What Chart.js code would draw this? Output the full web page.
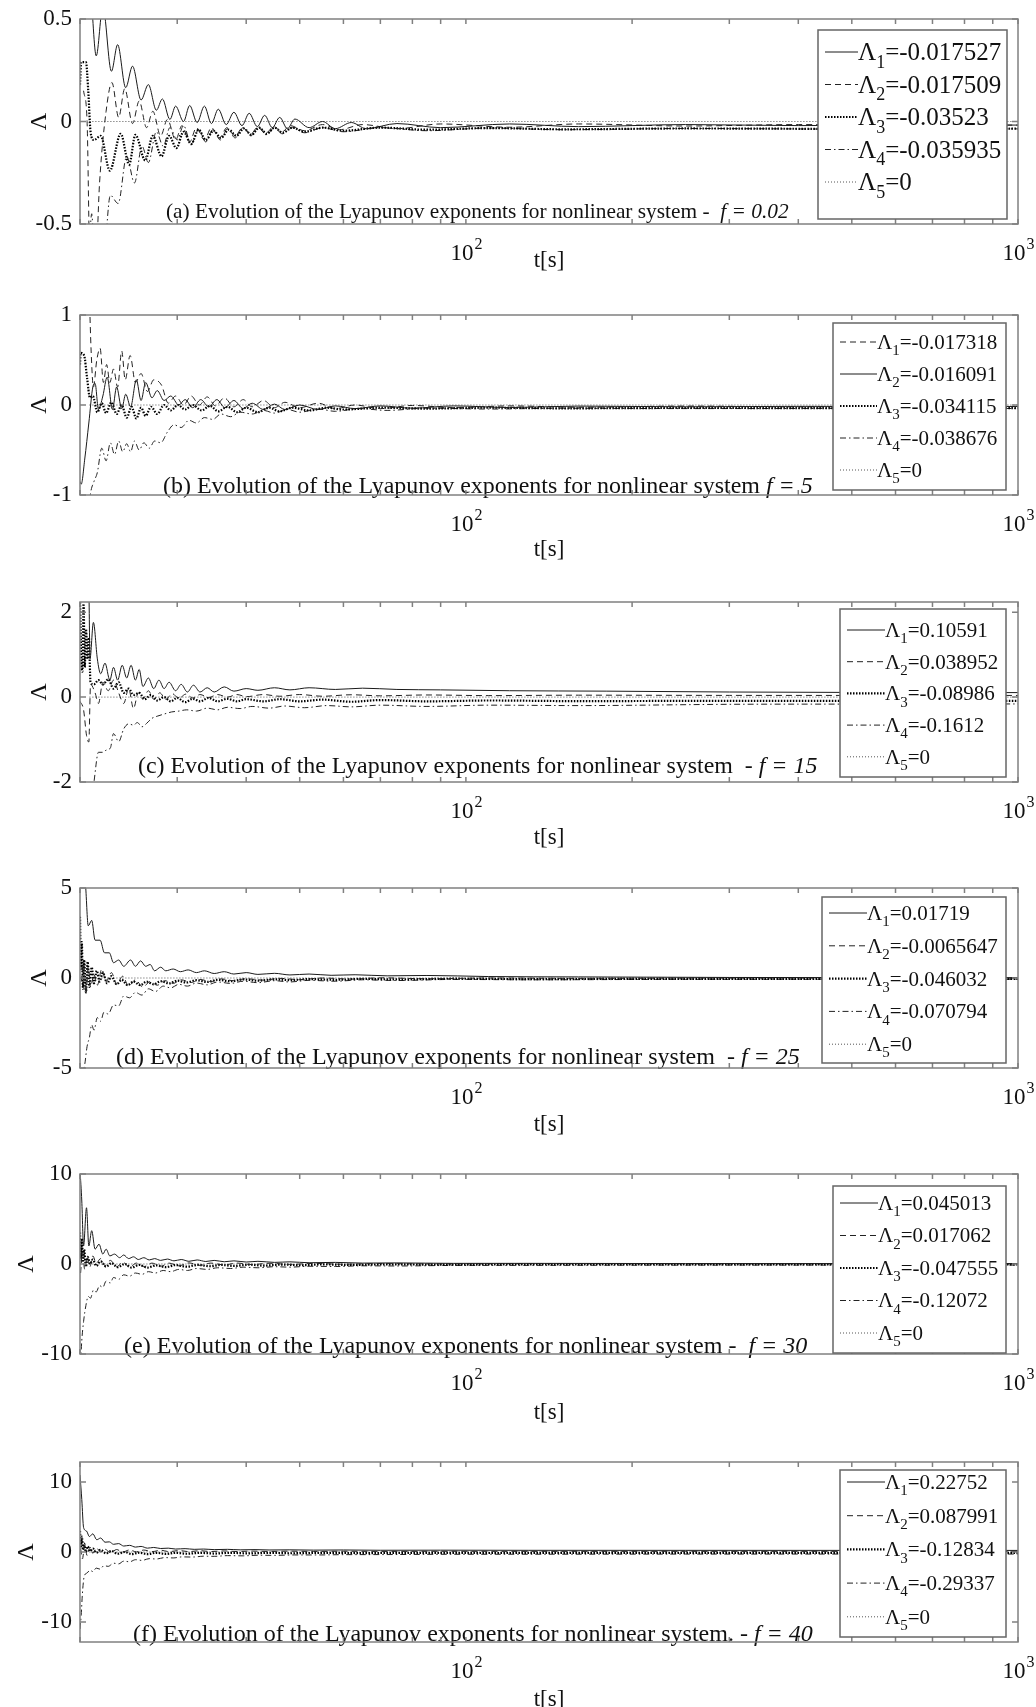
<!DOCTYPE html>
<html>
<head>
<meta charset="utf-8">
<script src="https://cdn.jsdelivr.net/npm/chart.js@4.4.1/dist/chart.umd.min.js"></script>
<style>
  html, body { margin: 0; padding: 0; background: #fff; }
  #wrap { position: relative; width: 1036px; height: 1707px; }
  canvas { position: absolute; left: 0; }
</style>
</head>
<body>
<div id="wrap"></div>
<script>
// time axis (log) shared by all panels
var xMin = 20, xMax = 1000;
var xTicks = [20, 30, 40, 50, 60, 70, 80, 90, 100, 200, 300, 400, 500, 600, 700, 800, 900, 1000];
var xLabelTicks = [100, 1000];
var xLabelExps = ['2', '3'];

// lambda5 is zero in every panel
var lambda5 = [[20.8, 0], [1000, 0]];

// (a) f = 0.02
var yRangeA = [-0.5, 0.5];
var yTicksA = [-0.5, 0, 0.5];
var valsA = ['-0.017527', '-0.017509', '-0.03523', '-0.035935', '0'];
var aL1 = [[20.3,0.9],[20.9,0.65],[21.4,0.32],[22.0,0.56],[22.8,0.245],[23.4,0.375],[24.2,0.165],[24.9,0.27],[25.8,0.105],[26.6,0.18],[27.5,0.055],[28.2,0.11],[29.1,0.01],[29.8,0.075],[30.8,0.0],[31.6,0.078],[32.6,-0.005],[33.6,0.075],[34.6,-0.01],[35.6,0.06],[36.8,-0.015],[38.0,0.045],[39.3,-0.02],[40.5,0.04],[41.9,-0.025],[43.2,0.03],[44.6,-0.03],[46.0,0.02],[47.5,-0.035],[49.0,0.012],[52,-0.03],[55,0.0],[58,-0.035],[62,-0.005],[66,-0.035],[75,-0.01],[90,-0.03],[120,-0.012],[160,-0.025],[250,-0.015],[400,-0.02],[700,-0.017],[1000,-0.0175]];
var aL2 = [[20.3,0.15],[20.6,0.0],[20.85,-0.7],[21.3,-0.75],[21.7,-0.3],[22.3,0.05],[22.85,0.19],[23.5,0.02],[24.1,0.16],[24.9,-0.01],[25.6,0.1],[26.4,-0.03],[27.1,0.05],[28.0,-0.07],[28.8,0.01],[29.8,-0.09],[30.6,-0.02],[31.6,-0.1],[32.5,-0.03],[33.6,-0.09],[34.6,-0.03],[35.8,-0.08],[36.9,-0.03],[38.2,-0.07],[39.4,-0.03],[40.8,-0.06],[42.0,-0.025],[43.5,-0.055],[44.8,-0.025],[46.5,-0.05],[48,-0.02],[51,-0.045],[55,-0.015],[59,-0.04],[65,-0.015],[75,-0.035],[90,-0.012],[120,-0.028],[160,-0.012],[250,-0.022],[400,-0.015],[700,-0.018],[1000,-0.0175]];
var aL3 = [[20.0,0.18],[20.1,0.29],[20.5,0.29],[20.7,0.15],[20.9,-0.05],[21.2,-0.09],[21.8,-0.07],[22.65,-0.24],[23.7,-0.06],[24.55,-0.21],[25.2,-0.065],[26.25,-0.19],[27.1,-0.07],[28.1,-0.17],[29.0,-0.07],[29.9,-0.13],[30.8,-0.05],[31.8,-0.11],[32.8,-0.04],[33.8,-0.09],[34.9,-0.045],[36.0,-0.08],[37.2,-0.04],[38.4,-0.07],[39.6,-0.035],[40.9,-0.065],[42.2,-0.03],[43.6,-0.06],[45,-0.03],[46.6,-0.055],[48.5,-0.03],[51,-0.05],[55,-0.03],[60,-0.045],[70,-0.03],[85,-0.04],[110,-0.032],[150,-0.038],[250,-0.034],[500,-0.036],[1000,-0.0352]];
var aL4 = [[20.8,-0.6],[21.0,-0.45],[21.2,-0.6],[22.0,-0.7],[22.7,-0.36],[23.45,-0.4],[24.3,-0.17],[25.1,-0.3],[25.9,-0.12],[26.6,-0.2],[27.5,-0.05],[28.3,-0.12],[29.1,-0.03],[30.0,-0.09],[30.8,-0.02],[31.8,-0.11],[32.8,-0.04],[33.8,-0.1],[34.8,-0.04],[35.9,-0.09],[37,-0.035],[38.2,-0.08],[39.5,-0.03],[40.8,-0.07],[42.1,-0.03],[43.5,-0.065],[45,-0.03],[46.5,-0.06],[48.5,-0.03],[51,-0.055],[55,-0.03],[60,-0.05],[70,-0.03],[85,-0.045],[110,-0.032],[150,-0.04],[250,-0.034],[500,-0.037],[1000,-0.0359]];

// (b) f = 5
var yRangeB = [-1, 1];
var yTicksB = [-1, 0, 1];
var valsB = ['-0.017318', '-0.016091', '-0.034115', '-0.038676', '0'];
var bL1 = [[20.8,1.2],[20.95,0.6],[21.15,0.2],[21.45,0.5],[21.75,0.63],[22.05,0.25],[22.35,0.45],[22.65,0.25],[23.0,0.4],[23.4,0.2],[23.8,0.6],[24.15,0.28],[24.65,0.55],[25.2,0.25],[25.8,0.35],[26.5,0.15],[27.2,0.28],[28.1,0.22],[28.9,0.02],[29.8,0.1],[30.8,0.0],[31.8,0.1],[32.9,0.0],[34,0.09],[35.2,-0.01],[36.5,0.08],[38,-0.02],[39.5,0.06],[41,-0.02],[43,0.05],[45,-0.03],[47,0.03],[50,-0.03],[54,0.02],[58,-0.04],[63,0.0],[70,-0.04],[80,-0.005],[95,-0.03],[120,-0.01],[160,-0.025],[250,-0.012],[400,-0.02],[700,-0.016],[1000,-0.0173]];
var bL2 = [[20.0,-0.85],[20.1,-0.88],[20.4,-0.6],[20.75,-0.2],[21.1,0.2],[21.3,0.24],[21.6,-0.05],[22.0,0.1],[22.4,0.31],[22.9,-0.05],[23.3,0.2],[23.8,-0.04],[24.2,0.12],[24.7,-0.02],[25.3,0.28],[25.8,0.05],[26.3,0.25],[27.0,0.08],[27.6,0.16],[28.4,0.05],[29.2,0.1],[30.2,0.0],[31.0,0.06],[32.0,-0.03],[33.1,0.06],[34.2,-0.02],[35.4,0.06],[36.6,-0.03],[38,0.05],[39.5,-0.04],[41,0.02],[43,-0.05],[45,0.01],[47,-0.05],[50,0.0],[54,-0.05],[58,-0.01],[63,-0.04],[70,-0.01],[80,-0.035],[95,-0.01],[120,-0.028],[160,-0.012],[250,-0.02],[400,-0.015],[700,-0.0165],[1000,-0.0161]];
var bL3 = [[20.0,0.45],[20.05,0.58],[20.35,0.55],[20.6,0.3],[20.85,0.08],[21.1,0.1],[21.5,-0.08],[21.9,0.02],[22.3,-0.09],[22.8,0.03],[23.3,-0.1],[23.8,0.0],[24.3,-0.14],[24.8,-0.02],[25.3,-0.15],[25.8,-0.03],[26.3,-0.12],[26.9,-0.02],[27.6,-0.1],[28.4,0.0],[29.2,-0.06],[30.1,0.0],[31,-0.05],[32,0.0],[33.2,-0.06],[34.4,-0.01],[35.6,-0.07],[37,-0.02],[38.5,-0.08],[40,-0.03],[42,-0.08],[44,-0.03],[46,-0.07],[48.5,-0.03],[52,-0.06],[56,-0.03],[60,-0.05],[70,-0.03],[85,-0.04],[110,-0.03],[150,-0.037],[250,-0.033],[500,-0.035],[1000,-0.0341]];
var bL4 = [[20.8,-1.1],[20.9,-0.98],[21.2,-0.85],[21.5,-0.75],[21.9,-0.48],[22.3,-0.62],[22.7,-0.42],[23.1,-0.55],[23.5,-0.4],[23.9,-0.52],[24.3,-0.43],[24.7,-0.52],[25.1,-0.4],[25.6,-0.5],[26.1,-0.42],[26.7,-0.48],[27.3,-0.4],[28.0,-0.42],[28.8,-0.3],[29.6,-0.22],[30.5,-0.25],[31.5,-0.17],[32.5,-0.2],[33.6,-0.14],[34.8,-0.16],[36,-0.1],[37.5,-0.13],[39,-0.08],[41,-0.1],[43,-0.06],[45,-0.09],[47.5,-0.05],[50,-0.08],[54,-0.045],[58,-0.07],[64,-0.04],[72,-0.06],[85,-0.035],[110,-0.045],[150,-0.036],[250,-0.04],[500,-0.038],[1000,-0.0387]];

// (c) f = 15
var yRangeC = [-2, 2.24];
var yTicksC = [-2, 0, 2];
var valsC = ['0.10591', '0.038952', '-0.08986', '-0.1612', '0'];
var cL1 = [[20.0,3.0],[20.75,2.5],[20.85,0.9],[21.15,1.76],[21.5,0.9],[21.8,0.55],[22.2,0.8],[22.65,0.4],[23.0,0.7],[23.4,0.4],[23.85,0.75],[24.3,0.45],[24.75,0.75],[25.2,0.4],[25.6,0.65],[26.0,0.25],[26.6,0.45],[27.2,0.2],[27.8,0.4],[28.4,0.2],[29.0,0.35],[29.8,0.15],[30.5,0.3],[31.3,0.12],[32.1,0.28],[33.0,0.12],[34,0.22],[35,0.12],[36.5,0.24],[38,0.14],[40,0.2],[42,0.16],[45,0.22],[48,0.17],[52,0.22],[58,0.18],[65,0.21],[75,0.18],[90,0.17],[120,0.15],[180,0.14],[300,0.12],[500,0.11],[1000,0.106]];
var cL2 = [[20.0,-0.1],[20.3,-0.3],[20.55,-0.9],[20.75,-1.06],[20.9,0.3],[21.3,0.1],[21.6,-0.15],[22.0,0.35],[22.5,0.15],[23.0,0.4],[23.5,0.1],[24.0,-0.15],[24.5,0.2],[25.0,-0.27],[25.5,0.1],[26.0,-0.05],[26.6,0.15],[27.2,-0.05],[27.9,0.1],[28.6,-0.05],[29.4,0.08],[30.2,-0.03],[31.1,0.07],[32,-0.02],[33,0.06],[34.2,-0.01],[35.5,0.06],[37,0.0],[38.5,0.06],[40,0.01],[43,0.06],[46,0.02],[50,0.06],[55,0.02],[62,0.055],[70,0.03],[85,0.05],[110,0.035],[160,0.045],[300,0.04],[1000,0.039]];
var cL3 = [[20.0,2.3],[20.1,1.0],[20.2,0.6],[20.3,2.2],[20.4,0.7],[20.5,1.6],[20.65,0.9],[20.75,1.4],[20.9,0.35],[21.2,0.3],[21.6,0.4],[22.0,0.3],[22.5,0.42],[23.0,0.2],[23.5,0.35],[24,0.1],[24.5,0.2],[25,0.05],[25.6,0.1],[26.2,-0.05],[26.9,0.05],[27.6,-0.08],[28.4,0.0],[29.2,-0.1],[30,-0.02],[31,-0.12],[32,-0.04],[33,-0.1],[34.2,-0.02],[35.5,-0.1],[37,-0.04],[38.5,-0.1],[40,-0.05],[43,-0.1],[46,-0.05],[50,-0.1],[55,-0.06],[62,-0.11],[70,-0.07],[85,-0.1],[110,-0.08],[160,-0.095],[300,-0.087],[1000,-0.0899]];
var cL4 = [[20.9,-2.6],[21.2,-2.0],[21.6,-1.3],[22.0,-1.3],[22.3,-1.25],[22.7,-1.2],[23.0,-0.86],[23.5,-1.05],[24.0,-0.75],[24.5,-0.63],[25.0,-0.66],[25.4,-0.6],[25.9,-0.7],[26.4,-0.62],[27.0,-0.5],[27.6,-0.45],[28.4,-0.4],[29.3,-0.35],[30.2,-0.33],[31.2,-0.3],[32.5,-0.33],[34,-0.26],[35.5,-0.3],[37,-0.24],[39,-0.27],[41,-0.22],[44,-0.26],[47,-0.21],[51,-0.25],[56,-0.2],[62,-0.23],[70,-0.19],[85,-0.22],[110,-0.19],[160,-0.2],[300,-0.17],[500,-0.165],[1000,-0.1612]];

// (d) f = 25
var yRangeD = [-5, 5];
var yTicksD = [-5, 0, 5];
var valsD = ['0.01719', '-0.0065647', '-0.046032', '-0.070794', '0'];
var dL1 = [[20.2,6],[20.45,5.3],[20.7,2.9],[21.0,3.2],[21.3,2.1],[21.75,2.1],[22.15,1.4],[22.6,1.4],[23.0,0.85],[23.5,1.0],[24.0,0.65],[24.7,1.0],[25.2,0.65],[25.75,0.95],[26.3,0.65],[26.8,0.75],[27.3,0.4],[28,0.6],[28.6,0.4],[29.5,0.5],[30.4,0.35],[31.4,0.45],[32.5,0.3],[33.6,0.4],[35,0.25],[36.5,0.35],[38,0.22],[40,0.3],[42,0.2],[45,0.26],[48,0.17],[52,0.22],[57,0.15],[63,0.18],[72,0.12],[85,0.14],[110,0.08],[160,0.06],[300,0.03],[1000,0.0172]];
var dL2 = [[20.1,-0.2],[20.3,0.8],[20.5,-0.9],[20.7,0.6],[20.9,-0.5],[21.2,0.2],[21.5,-0.4],[21.9,0.5],[22.3,-0.2],[22.8,0.3],[23.3,-0.35],[23.9,0.1],[24.5,-0.45],[25.2,-0.1],[26,-0.5],[26.8,-0.2],[27.6,-0.4],[28.5,-0.15],[29.5,-0.3],[30.5,-0.1],[31.8,-0.25],[33,-0.08],[34.5,-0.2],[36,-0.05],[38,-0.15],[40,-0.04],[43,-0.12],[46,-0.02],[50,-0.09],[55,0.0],[62,-0.06],[70,0.01],[85,-0.04],[110,0.0],[160,-0.02],[300,-0.005],[1000,-0.0066]];
var dL3 = [[20.0,3.4],[20.08,0.5],[20.15,2.0],[20.25,-0.6],[20.35,1.0],[20.5,-0.8],[20.65,0.9],[20.8,-0.5],[21.0,0.6],[21.2,-0.3],[21.45,0.4],[21.7,-0.2],[22.0,0.3],[22.4,-0.3],[22.8,0.1],[23.3,-0.35],[23.8,-0.1],[24.4,-0.4],[25,-0.2],[25.7,-0.4],[26.4,-0.2],[27.2,-0.35],[28,-0.18],[29,-0.3],[30,-0.15],[31.2,-0.25],[32.5,-0.12],[34,-0.22],[35.5,-0.1],[37.5,-0.18],[39.5,-0.08],[42,-0.15],[45,-0.07],[48,-0.12],[52,-0.06],[58,-0.1],[65,-0.05],[75,-0.08],[95,-0.04],[130,-0.06],[250,-0.045],[1000,-0.046]];
var dL4 = [[20.15,-5.5],[20.4,-4.8],[20.6,-3.8],[20.8,-3.3],[21.0,-2.6],[21.2,-2.9],[21.5,-2.2],[21.8,-2.4],[22.1,-1.9],[22.5,-2.0],[23.0,-1.5],[23.5,-1.55],[24.0,-1.0],[24.6,-1.1],[25.2,-0.8],[25.9,-0.95],[26.6,-0.6],[27.4,-0.75],[28.3,-0.45],[29.2,-0.55],[30.2,-0.35],[31.3,-0.45],[32.5,-0.28],[34,-0.38],[35.5,-0.22],[37.5,-0.3],[39.5,-0.18],[42,-0.26],[45,-0.15],[48,-0.22],[52,-0.13],[58,-0.18],[65,-0.1],[75,-0.14],[95,-0.08],[130,-0.1],[250,-0.075],[1000,-0.0708]];

// (e) f = 30
var yRangeE = [-10, 10];
var yTicksE = [-10, 0, 10];
var valsE = ['0.045013', '0.017062', '-0.047555', '-0.12072', '0'];
var eL1 = [[20.0,10.5],[20.15,7],[20.3,2.0],[20.55,6.25],[20.75,2.0],[21.0,3.7],[21.3,1.65],[21.65,2.2],[22.0,1.1],[22.3,1.65],[22.65,0.9],[23.1,1.1],[23.6,0.7],[24.0,1.0],[24.5,0.6],[25.0,0.8],[25.5,0.5],[26.1,0.7],[26.7,0.45],[27.3,0.6],[28,0.4],[28.8,0.55],[29.6,0.35],[30.5,0.5],[31.5,0.3],[32.6,0.45],[33.8,0.28],[35,0.4],[36.5,0.25],[38,0.35],[40,0.22],[42,0.3],[45,0.18],[48,0.24],[52,0.14],[58,0.18],[65,0.1],[75,0.12],[95,0.07],[130,0.07],[250,0.05],[1000,0.045]];
var eL2 = [[20.05,-1.0],[20.2,1.2],[20.4,-0.6],[20.6,0.8],[20.85,-0.3],[21.1,0.9],[21.4,0.1],[21.8,0.6],[22.2,-0.2],[22.7,0.4],[23.3,-0.3],[23.9,0.2],[24.6,-0.35],[25.3,0.1],[26.1,-0.3],[27,0.1],[28,-0.25],[29,0.1],[30.2,-0.2],[31.5,0.12],[33,-0.15],[34.5,0.1],[36.5,-0.1],[38.5,0.1],[41,-0.06],[44,0.08],[48,-0.04],[53,0.06],[60,-0.02],[70,0.04],[90,0.0],[130,0.03],[250,0.015],[1000,0.0171]];
var eL3 = [[20.0,3.5],[20.08,0.5],[20.16,2.8],[20.25,0.2],[20.35,1.6],[20.5,-0.3],[20.65,0.8],[20.85,0.0],[21.1,0.5],[21.4,-0.2],[21.8,0.3],[22.3,-0.3],[22.8,0.1],[23.4,-0.35],[24.1,0.0],[24.8,-0.4],[25.6,-0.1],[26.5,-0.4],[27.5,-0.15],[28.6,-0.35],[29.8,-0.12],[31.2,-0.3],[32.7,-0.1],[34.3,-0.25],[36,-0.1],[38,-0.22],[40.5,-0.08],[43,-0.18],[46.5,-0.06],[50,-0.14],[55,-0.05],[62,-0.1],[72,-0.04],[90,-0.07],[130,-0.045],[250,-0.05],[1000,-0.0476]];
var eL4 = [[20.05,-11],[20.15,-8.5],[20.3,-6.4],[20.5,-4.6],[20.7,-3.6],[20.9,-3.8],[21.15,-2.9],[21.4,-3.1],[21.7,-2.4],[22.0,-2.6],[22.3,-1.9],[22.7,-2.1],[23.0,-1.5],[23.5,-1.7],[24.0,-1.2],[24.6,-1.35],[25.2,-1.0],[25.9,-1.15],[26.6,-0.85],[27.4,-1.0],[28.3,-0.72],[29.2,-0.85],[30.2,-0.6],[31.3,-0.72],[32.5,-0.5],[34,-0.6],[35.5,-0.42],[37.5,-0.5],[39.5,-0.35],[42,-0.42],[45,-0.3],[48,-0.35],[52,-0.25],[58,-0.28],[65,-0.2],[75,-0.22],[95,-0.16],[130,-0.15],[250,-0.125],[1000,-0.1207]];

// (f) f = 40
var yRangeF = [-12.86, 12.86];
var yTicksF = [-10, 0, 10];
var valsF = ['0.22752', '0.087991', '-0.12834', '-0.29337', '0'];
var fL1 = [[20.0,11],[20.15,7.5],[20.3,3.5],[20.55,3.0],[20.8,2.2],[21.1,2.6],[21.45,1.75],[21.8,2.0],[22.2,1.4],[22.6,1.45],[23.0,1.1],[23.5,1.2],[24.0,0.85],[24.6,0.95],[25.2,0.7],[25.8,0.8],[26.5,0.55],[27.2,0.65],[28,0.5],[28.9,0.55],[29.8,0.42],[31,0.48],[32.2,0.38],[33.5,0.42],[35,0.34],[37,0.38],[39,0.31],[41.5,0.34],[44,0.29],[48,0.31],[53,0.27],[60,0.29],[70,0.25],[90,0.26],[130,0.24],[250,0.235],[1000,0.2275]];
var fL2 = [[20.05,0.5],[20.2,-1.0],[20.4,1.0],[20.6,-0.5],[20.85,0.7],[21.1,-0.2],[21.4,0.6],[21.8,0.0],[22.2,0.4],[22.7,-0.1],[23.3,0.35],[23.9,0.0],[24.6,0.3],[25.3,0.02],[26.1,0.28],[27,0.05],[28,0.25],[29,0.06],[30.2,0.2],[31.5,0.06],[33,0.18],[34.5,0.07],[36.5,0.15],[38.5,0.07],[41,0.13],[44,0.08],[48,0.12],[53,0.08],[60,0.11],[70,0.085],[90,0.1],[130,0.09],[250,0.09],[1000,0.088]];
var fL3 = [[20.0,3.0],[20.08,0.8],[20.16,2.2],[20.25,0.3],[20.35,1.2],[20.5,0.0],[20.65,0.8],[20.85,0.1],[21.1,0.5],[21.4,-0.1],[21.8,0.3],[22.3,-0.2],[22.8,0.15],[23.4,-0.25],[24.1,0.0],[24.8,-0.3],[25.6,-0.1],[26.5,-0.3],[27.5,-0.12],[28.6,-0.28],[29.8,-0.12],[31.2,-0.25],[33,-0.12],[35,-0.22],[37.5,-0.12],[40.5,-0.2],[44,-0.12],[48,-0.18],[55,-0.12],[65,-0.15],[80,-0.12],[110,-0.14],[250,-0.125],[1000,-0.1283]];
var fL4 = [[20.0,-11],[20.1,-9],[20.2,-6],[20.35,-3.5],[20.6,-3.0],[20.85,-2.6],[21.1,-2.8],[21.4,-2.3],[21.75,-2.45],[22.1,-1.95],[22.5,-2.05],[23.0,-1.6],[23.5,-1.7],[24.0,-1.3],[24.6,-1.4],[25.2,-1.1],[25.9,-1.2],[26.7,-0.95],[27.5,-1.0],[28.5,-0.8],[29.5,-0.85],[30.6,-0.7],[32,-0.72],[33.5,-0.6],[35,-0.62],[37,-0.52],[39.5,-0.55],[42,-0.46],[45,-0.48],[49,-0.42],[54,-0.42],[60,-0.38],[70,-0.37],[90,-0.33],[130,-0.32],[250,-0.3],[1000,-0.2934]];

var SERIF = "'Liberation Serif', 'Times New Roman', serif";
var TXT = '#111111';

var lineStyles = {
    solid:   { color: '#1a1a1a', width: 1,   dash: [] },
    dashed:  { color: '#222222', width: 1,   dash: [6, 4] },
    dotBold: { color: '#000000', width: 2.2, dash: [1.5, 1.5] },
    dashDot: { color: '#222222', width: 1,   dash: [6, 3, 1.5, 3] },
    dotThin: { color: '#555555', width: 1,   dash: [1, 2] }
};
var stylesStd = ['solid', 'dashed', 'dotBold', 'dashDot', 'dotThin'];

// page layout of the six axes (page pixels)
var panels = [
    { top: 0, h: 290, plotTop: 19, plotBottom: 224, yRange: yRangeA, yTicks: yTicksA,
      series: [aL1, aL2, aL3, aL4, lambda5], values: valsA, styles: stylesStd,
      note: ['(a) Evolution of the Lyapunov exponents for nonlinear system -  ', 'f = 0.02'], noteX: 166, noteEnd: 789, noteY: 218,
      box: [818, 30, 1007, 219], row0: 52, rowGap: 32.5, legFont: 25, lineX: [825, 858], tsY: 261, lambdaX: 40 },
    { top: 290, h: 288, plotTop: 315, plotBottom: 495, yRange: yRangeB, yTicks: yTicksB,
      series: [bL1, bL2, bL3, bL4, lambda5], values: valsB, styles: ['dashed', 'solid', 'dotBold', 'dashDot', 'dotThin'],
      note: ['(b) Evolution of the Lyapunov exponents for nonlinear system ', 'f = 5'], noteX: 163, noteEnd: 813, noteY: 493,
      box: [833, 323, 1006, 490], row0: 342, rowGap: 32, legFont: 21, lineX: [840, 877], tsY: 550, lambdaX: 40 },
    { top: 578, h: 288, plotTop: 602, plotBottom: 782, yRange: yRangeC, yTicks: yTicksC,
      series: [cL1, cL2, cL3, cL4, lambda5], values: valsC, styles: stylesStd,
      note: ['(c) Evolution of the Lyapunov exponents for nonlinear system  - ', 'f = 15'], noteX: 138, noteEnd: 818, noteY: 773,
      box: [840, 609, 1006, 777], row0: 630, rowGap: 31.7, legFont: 21, lineX: [847, 885], tsY: 838, lambdaX: 40 },
    { top: 866, h: 286, plotTop: 888, plotBottom: 1068, yRange: yRangeD, yTicks: yTicksD,
      series: [dL1, dL2, dL3, dL4, lambda5], values: valsD, styles: stylesStd,
      note: ['(d) Evolution of the Lyapunov exponents for nonlinear system  - ', 'f = 25'], noteX: 116, noteEnd: 800, noteY: 1064,
      box: [822, 897, 1006, 1063], row0: 913, rowGap: 32.8, legFont: 21, lineX: [829, 867], tsY: 1125, lambdaX: 40 },
    { top: 1152, h: 288, plotTop: 1174, plotBottom: 1354, yRange: yRangeE, yTicks: yTicksE,
      series: [eL1, eL2, eL3, eL4, lambda5], values: valsE, styles: stylesStd,
      note: ['(e) Evolution of the Lyapunov exponents for nonlinear system -  ', 'f = 30'], noteX: 124, noteEnd: 808, noteY: 1353,
      box: [833, 1186, 1006, 1353], row0: 1203, rowGap: 32.5, legFont: 21, lineX: [840, 878], tsY: 1413, lambdaX: 27 },
    { top: 1440, h: 267, plotTop: 1462, plotBottom: 1642, yRange: yRangeF, yTicks: yTicksF,
      series: [fL1, fL2, fL3, fL4, lambda5], values: valsF, styles: stylesStd,
      note: ['(f) Evolution of the Lyapunov exponents for nonlinear system. - ', 'f = 40'], noteX: 133, noteEnd: 813, noteY: 1641,
      box: [840, 1470, 1006, 1637], row0: 1482, rowGap: 33.7, legFont: 21, lineX: [847, 885], tsY: 1700, lambdaX: 27 }
];

function makePlugin(p) {
    return {
        id: 'lyapDecor',
        afterDatasetsDraw: function (chart) {
            // caption written inside the axes
            var ctx = chart.ctx, off = p.top, fs0 = 22;
            ctx.save();
            ctx.font = fs0 + 'px ' + SERIF;
            var w1 = ctx.measureText(p.note[0]).width;
            ctx.font = 'italic ' + fs0 + 'px ' + SERIF;
            var w2 = ctx.measureText(p.note[1]).width;
            var fs = fs0 * (p.noteEnd - p.noteX) / (w1 + w2);
            ctx.fillStyle = TXT;
            ctx.textBaseline = 'alphabetic';
            ctx.textAlign = 'left';
            ctx.font = fs + 'px ' + SERIF;
            ctx.fillText(p.note[0], p.noteX, p.noteY - off);
            var w = ctx.measureText(p.note[0]).width;
            ctx.font = 'italic ' + fs + 'px ' + SERIF;
            ctx.fillText(p.note[1], p.noteX + w, p.noteY - off);
            ctx.restore();
        },
        afterDraw: function (chart) {
            var ctx = chart.ctx, a = chart.chartArea, off = p.top;
            var xs = chart.scales.x, ys = chart.scales.y;
            ctx.save();
            // box and inward ticks
            ctx.strokeStyle = '#808080';
            ctx.lineWidth = 1.5;
            ctx.setLineDash([]);
            ctx.strokeRect(a.left, a.top, a.right - a.left, a.bottom - a.top);
            ctx.beginPath();
            xTicks.forEach(function (v) {
                var x = xs.getPixelForValue(v);
                ctx.moveTo(x, a.top); ctx.lineTo(x, a.top + 5);
                ctx.moveTo(x, a.bottom); ctx.lineTo(x, a.bottom - 5);
            });
            p.yTicks.forEach(function (v) {
                var y = ys.getPixelForValue(v);
                ctx.moveTo(a.left, y); ctx.lineTo(a.left + 6, y);
                ctx.moveTo(a.right, y); ctx.lineTo(a.right - 6, y);
            });
            ctx.stroke();

            // 10^2, 10^3 labels
            ctx.fillStyle = TXT;
            ctx.textBaseline = 'alphabetic';
            ctx.textAlign = 'left';
            xLabelTicks.forEach(function (v, i) {
                var x = xs.getPixelForValue(v);
                ctx.font = '23px ' + SERIF;
                var wb = ctx.measureText('10').width;
                ctx.font = '16px ' + SERIF;
                var we = ctx.measureText(xLabelExps[i]).width;
                var x0 = x - (wb + we) / 2;
                var yb = a.bottom + 36;
                ctx.font = '23px ' + SERIF;
                ctx.fillText('10', x0, yb);
                ctx.font = '16px ' + SERIF;
                ctx.fillText(xLabelExps[i], x0 + wb + 1, yb - 11);
            });

            // legend box
            var b = p.box;
            ctx.fillStyle = '#ffffff';
            ctx.fillRect(b[0], b[1] - off, b[2] - b[0], b[3] - b[1]);
            ctx.strokeStyle = '#666666';
            ctx.lineWidth = 1.5;
            ctx.strokeRect(b[0], b[1] - off, b[2] - b[0], b[3] - b[1]);
            chart.data.datasets.forEach(function (ds, i) {
                var y = p.row0 + i * p.rowGap - off;
                ctx.setLineDash(ds.borderDash);
                ctx.lineWidth = ds.borderWidth;
                ctx.strokeStyle = ds.borderColor;
                ctx.beginPath();
                ctx.moveTo(p.lineX[0], y);
                ctx.lineTo(p.lineX[1], y);
                ctx.stroke();
                ctx.setLineDash([]);
                var fs = p.legFont, base = y + fs * 0.33, x = p.lineX[1];
                ctx.fillStyle = TXT;
                ctx.font = fs + 'px ' + SERIF;
                ctx.fillText('Λ', x, base);
                x += ctx.measureText('Λ').width;
                ctx.font = Math.round(fs * 0.7) + 'px ' + SERIF;
                ctx.fillText(String(i + 1), x, base + fs * 0.3);
                x += ctx.measureText(String(i + 1)).width;
                ctx.font = fs + 'px ' + SERIF;
                ctx.fillText('=' + p.values[i], x, base);
            });
            ctx.restore();
        }
    };
}

var wrap = document.getElementById('wrap');
panels.forEach(function (p) {
    var cv = document.createElement('canvas');
    cv.width = 1036;
    cv.height = p.h;
    cv.style.top = p.top + 'px';
    wrap.appendChild(cv);

    var datasets = p.series.map(function (s, i) {
        var st = lineStyles[p.styles[i]];
        return {
            label: 'Λ' + (i + 1) + '=' + p.values[i],
            data: s.map(function (pt) { return { x: pt[0], y: pt[1] }; }),
            borderColor: st.color,
            borderWidth: st.width,
            borderDash: st.dash,
            pointRadius: 0,
            fill: false,
            cubicInterpolationMode: 'monotone',
            clip: 0
        };
    });
    var xh = p.h - (p.plotBottom - p.top);
    var tsPad = (p.h - (p.tsY - p.top)) - 23 * 1.2 / 2;

    new Chart(cv, {
        type: 'line',
        data: { datasets: datasets },
        options: {
            responsive: false,
            animation: false,
            events: [],
            layout: { padding: { top: p.plotTop - p.top, right: 18, left: 0, bottom: 0 } },
            plugins: { legend: { display: false }, tooltip: { enabled: false } },
            scales: {
                x: {
                    type: 'logarithmic', min: xMin, max: xMax,
                    grid: { display: false, drawTicks: false },
                    border: { display: false },
                    ticks: { display: false },
                    title: { display: true, text: 't[s]', color: TXT, font: { family: SERIF, size: 23 },
                             padding: { top: 0, bottom: tsPad } },
                    afterFit: function (s) { s.height = xh; s.paddingLeft = 0; s.paddingRight = 0; }
                },
                y: {
                    type: 'linear', min: p.yRange[0], max: p.yRange[1],
                    grid: { display: false, drawTicks: false },
                    border: { display: false },
                    afterBuildTicks: function (s) { s.ticks = p.yTicks.map(function (v) { return { value: v }; }); },
                    ticks: { color: TXT, font: { family: SERIF, size: 23 }, padding: 8, autoSkip: false,
                             callback: function (v) { return String(v); } },
                    title: { display: true, text: 'Λ', color: TXT, font: { family: SERIF, size: 24 },
                             padding: { top: p.lambdaX - 14.4, bottom: 0 } },
                    afterFit: function (s) { s.width = 80; s.paddingTop = 0; s.paddingBottom = 0; }
                }
            }
        },
        plugins: [makePlugin(p)]
    });
});
</script>
</body>
</html>
